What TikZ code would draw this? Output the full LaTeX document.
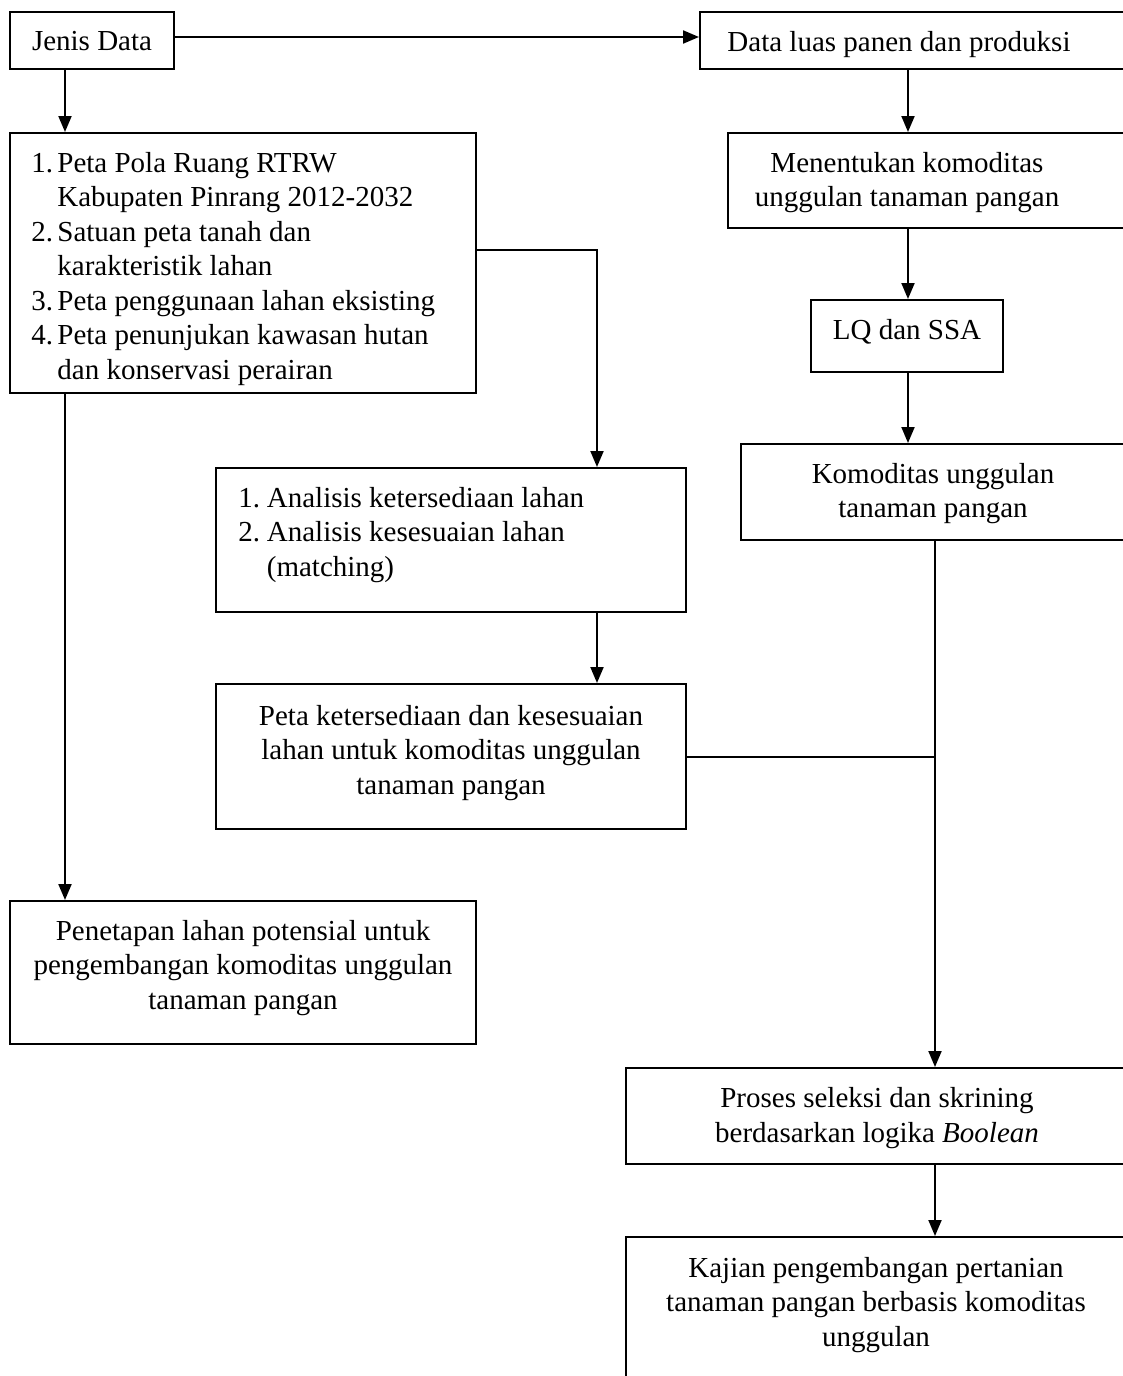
\documentclass[tikz,border=0pt]{standalone}
\usepackage{fontspec}
\setmainfont{Liberation Serif}
\usetikzlibrary{arrows.meta,fit}
\begin{document}
\begin{tikzpicture}[x=0.5pt,y=-0.5pt,
  box/.style={draw, line width=1pt, inner sep=0pt, rectangle},
  txt/.style={inner sep=0pt, font=\fontsize{14.5}{17.25}\selectfont},
  arr/.style={line width=1pt, -{Triangle[width=6.5pt,length=8pt]}},
  ln/.style={line width=1pt}]
\useasboundingbox (0,0) rectangle (1123,1376);
\begin{scope}
\clip (0,0) rectangle (1123,1376);
% boxes
\node[box, fit={(10,12) (174,69)}] (jd) {};
\node[box, fit={(700,12) (1130,69)}] (dl) {};
\node[box, fit={(10,133) (476,393)}] (b1) {};
\node[box, fit={(728,133) (1130,228)}] (mk) {};
\node[box, fit={(811,300) (1003,372)}] (lq) {};
\node[box, fit={(741,444) (1130,540)}] (ku) {};
\node[box, fit={(216,468) (686,612)}] (an) {};
\node[box, fit={(216,684) (686,829)}] (pk) {};
\node[box, fit={(10,901) (476,1044)}] (pn) {};
\node[box, fit={(626,1068) (1130,1164)}] (ps) {};
\node[box, fit={(626,1237) (1130,1420)}] (kj) {};
% texts
\node[txt, anchor=north] (tjd) at (92,26.4) {\strut Jenis Data};
\node[txt, anchor=north] (tdl) at (899,26.9) {\strut Data luas panen dan produksi};
\node[txt, anchor=north west, align=left] (tb1) at (31,147.9) {\strut\makebox[13pt][l]{1.}Peta Pola Ruang RTRW\\
\hspace*{13pt}Kabupaten Pinrang 2012-2032\\
\makebox[13pt][l]{2.}Satuan peta tanah dan\\
\hspace*{13pt}karakteristik lahan\\
\makebox[13pt][l]{3.}Peta penggunaan lahan eksisting\\
\makebox[13pt][l]{4.}Peta penunjukan kawasan hutan\\
\hspace*{13pt}dan konservasi perairan};
\node[txt, anchor=north, align=center] (tmk) at (907,147.9) {\strut Menentukan komoditas\\unggulan tanaman pangan};
\node[txt, anchor=north] (tlq) at (907,314.9) {\strut LQ dan SSA};
\node[txt, anchor=north, align=center] (tku) at (933,458.6) {\strut Komoditas unggulan\\tanaman pangan};
\node[txt, anchor=north west, align=left] (tan) at (238,482.9) {\strut\makebox[14.25pt][l]{1.}Analisis ketersediaan lahan\\
\makebox[14.25pt][l]{2.}Analisis kesesuaian lahan\\
\hspace*{14.25pt}(matching)};
\node[txt, anchor=north, align=center] (tpk) at (451,700.9) {\strut Peta ketersediaan dan kesesuaian\\lahan untuk komoditas unggulan\\tanaman pangan};
\node[txt, anchor=north, align=center] (tpn) at (243,915.9) {\strut Penetapan lahan potensial untuk\\pengembangan komoditas unggulan\\tanaman pangan};
\node[txt, anchor=north, align=center] (tps) at (877,1083.4) {\strut Proses seleksi dan skrining\\berdasarkan logika \textit{Boolean}};
\node[txt, anchor=north, align=center] (tkj) at (876,1252.9) {\strut Kajian pengembangan pertanian\\tanaman pangan berbasis komoditas\\unggulan};
% helper coordinates
\coordinate (c1) at (597,250);
\coordinate (xr) at (908,0);
\coordinate (xv) at (935,0);
% connectors
\draw[arr] ([yshift=1.75pt]jd.east) -- ([yshift=1.75pt]dl.west);
\draw[arr] ([xshift=28pt]jd.south west) -- ([xshift=28pt]b1.north west);
\draw[arr] (b1.east |- c1) -| (an.north -| c1);
\draw[arr] ([xshift=28pt]b1.south west) -- ([xshift=28pt]pn.north west);
\draw[arr] (dl.south -| xr) -- (mk.north -| xr);
\draw[arr] (mk.south -| xr) -- (lq.north -| xr);
\draw[arr] (lq.south -| xr) -- (ku.north -| xr);
\draw[arr] (an.south -| c1) -- (pk.north -| c1);
\draw[ln] (pk.east) -- (pk.east -| xv);
\draw[arr] (ku.south -| xv) -- (ps.north -| xv);
\draw[arr] (ps.south -| xv) -- (kj.north -| xv);
\end{scope}
\end{tikzpicture}
\end{document}
